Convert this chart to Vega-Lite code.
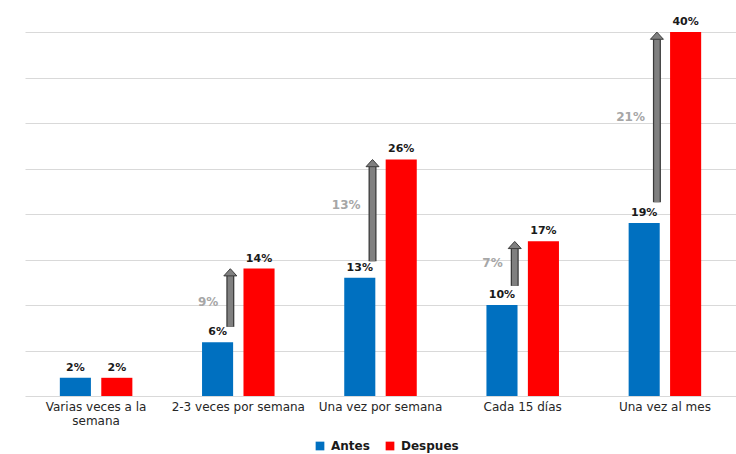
{
  "$schema": "https://vega.github.io/schema/vega-lite/v6.json",
  "width": 711,
  "height": 364,
  "autosize": {"type": "none"},
  "padding": {"left": 25, "top": 32, "right": 0, "bottom": 58},
  "background": "white",
  "config": {"view": {"stroke": null}, "font": "DejaVu Sans"},
  "datasets": {
    "bars": [
      {"cat": "Varias veces a la semana", "serie": "Antes", "value": 2, "label": "2%"},
      {"cat": "Varias veces a la semana", "serie": "Despues", "value": 2, "label": "2%"},
      {"cat": "2-3 veces por semana", "serie": "Antes", "value": 5.9, "label": "6%"},
      {"cat": "2-3 veces por semana", "serie": "Despues", "value": 14, "label": "14%"},
      {"cat": "Una vez por semana", "serie": "Antes", "value": 13, "label": "13%"},
      {"cat": "Una vez por semana", "serie": "Despues", "value": 26, "label": "26%"},
      {"cat": "Cada 15 días", "serie": "Antes", "value": 10, "label": "10%"},
      {"cat": "Cada 15 días", "serie": "Despues", "value": 17, "label": "17%"},
      {"cat": "Una vez al mes", "serie": "Antes", "value": 19, "label": "19%"},
      {"cat": "Una vez al mes", "serie": "Despues", "value": 40, "label": "40%"}
    ],
    "arrows": [
      {"cat": "2-3 veces por semana", "from": 7.6, "to": 13.2, "mid": 10.3, "diff": "9%"},
      {"cat": "Una vez por semana", "from": 14.8, "to": 25.2, "mid": 21, "diff": "13%"},
      {"cat": "Cada 15 días", "from": 12.1, "to": 16.2, "mid": 14.6, "diff": "7%"},
      {"cat": "Una vez al mes", "from": 21.3, "to": 39.2, "mid": 30.7, "diff": "21%"}
    ]
  },
  "layer": [
    {
      "data": {"name": "bars"},
      "mark": {"type": "bar"},
      "encoding": {
        "x": {
          "field": "cat", "type": "nominal", "sort": null,
          "scale": {"paddingInner": 0.49, "paddingOuter": 0.245},
          "axis": {
            "title": null, "domain": false, "ticks": false, "labelAngle": 0,
            "labelFont": "DejaVu Sans", "labelFontSize": 12, "labelColor": "#262626", "labelPadding": 5,
            "labelExpr": "datum.label == 'Varias veces a la semana' ? ['Varias veces a la', 'semana'] : datum.label",
            "labelLineHeight": 14
          }
        },
        "xOffset": {
          "field": "serie", "type": "nominal",
          "scale": {"paddingInner": 0.25, "paddingOuter": 0}
        },
        "y": {
          "field": "value", "type": "quantitative",
          "scale": {"domain": [0, 40], "nice": false},
          "axis": {
            "title": null, "labels": false, "ticks": false, "domain": false,
            "values": [0, 5, 10, 15, 20, 25, 30, 35, 40],
            "gridColor": "#d9d9d9", "gridWidth": 1
          }
        },
        "color": {
          "field": "serie", "type": "nominal",
          "scale": {"domain": ["Antes", "Despues"], "range": ["#0070C0", "#FF0000"]},
          "legend": {
            "title": null, "orient": "none", "direction": "horizontal",
            "legendX": 289, "legendY": 408,
            "symbolType": "square", "symbolSize": 76, "symbolStrokeWidth": 0,
            "labelFont": "DejaVu Sans", "labelFontSize": 12, "labelFontWeight": "bold", "labelColor": "#1a1a1a",
            "labelOffset": 5, "columnPadding": 14, "symbolOffset": 0
          }
        }
      }
    },
    {
      "data": {"name": "bars"},
      "mark": {"type": "text", "baseline": "bottom", "dy": -5, "font": "DejaVu Sans", "fontSize": 11, "fontWeight": "bold", "color": "#1a1a1a"},
      "encoding": {
        "x": {"field": "cat", "type": "nominal", "sort": null},
        "xOffset": {"field": "serie", "type": "nominal"},
        "y": {"field": "value", "type": "quantitative"},
        "text": {"field": "label"}
      }
    },
    {
      "data": {"name": "arrows"},
      "mark": {"type": "rule", "strokeWidth": 8, "color": "#3a3a3a", "strokeCap": "butt"},
      "encoding": {
        "x": {"field": "cat", "type": "nominal", "sort": null, "bandPosition": 0.39},
        "y": {"field": "from", "type": "quantitative"},
        "y2": {"field": "to"}
      }
    },
    {
      "data": {"name": "arrows"},
      "mark": {"type": "rule", "strokeWidth": 5.5, "color": "#808080", "strokeCap": "butt"},
      "encoding": {
        "x": {"field": "cat", "type": "nominal", "sort": null, "bandPosition": 0.39},
        "y": {"field": "from", "type": "quantitative"},
        "y2": {"field": "to"}
      }
    },
    {
      "data": {"name": "arrows"},
      "mark": {"type": "point", "shape": "M-1,0L0,-1.1L1,0Z", "size": 169, "filled": true, "fill": "#808080", "stroke": "#3a3a3a", "strokeWidth": 1, "opacity": 1},
      "encoding": {
        "x": {"field": "cat", "type": "nominal", "sort": null, "bandPosition": 0.39},
        "y": {"field": "to", "type": "quantitative"}
      }
    },
    {
      "data": {"name": "arrows"},
      "mark": {"type": "text", "align": "right", "baseline": "middle", "dx": -12, "font": "DejaVu Sans", "fontSize": 12, "fontWeight": "bold", "color": "#a6a6a6"},
      "encoding": {
        "x": {"field": "cat", "type": "nominal", "sort": null, "bandPosition": 0.39},
        "y": {"field": "mid", "type": "quantitative"},
        "text": {"field": "diff"}
      }
    }
  ]
}
